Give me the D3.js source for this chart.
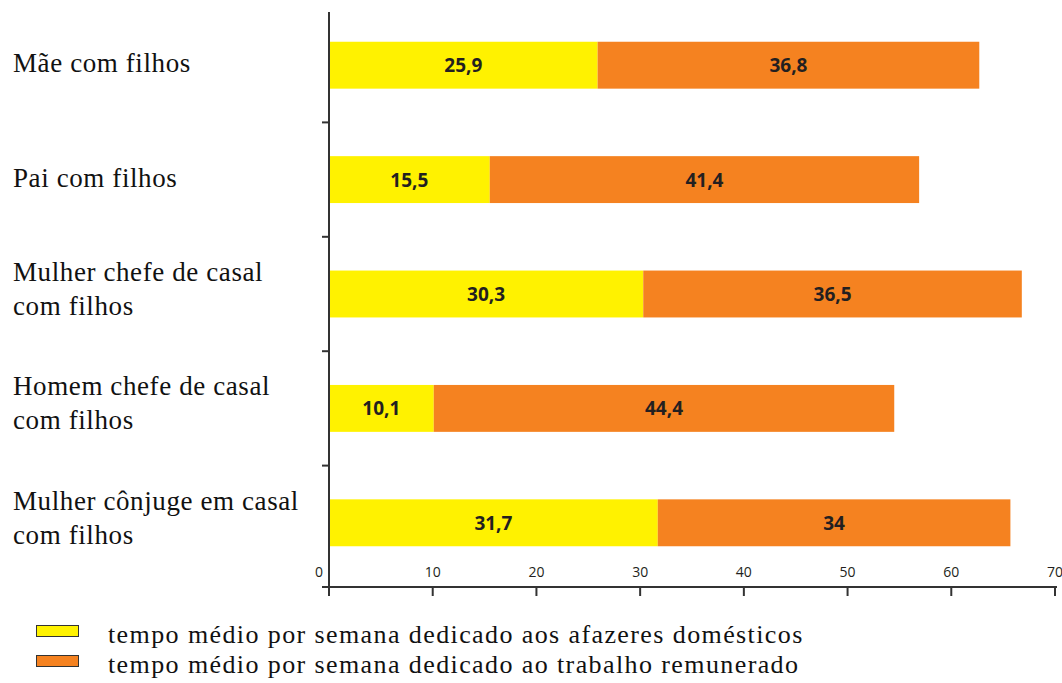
<!DOCTYPE html>
<html>
<head>
<meta charset="utf-8">
<script src="https://cdn.jsdelivr.net/npm/d3@7"></script>
<style>
  body { margin: 0; background: #fff; }
  .cat { font-family: "Liberation Serif", "DejaVu Serif", serif; font-size: 27px; letter-spacing: 0.6px; fill: #111; }
  .legend text { font-family: "Liberation Serif", "DejaVu Serif", serif; font-size: 26px; letter-spacing: 1.4px; fill: #111; }
  .val { font-family: "Open Sans", sans-serif; font-weight: 700; font-size: 19px; fill: #231f20; }
  .tick text { font-family: "Open Sans", sans-serif; font-size: 14px; fill: #231f20; }
</style>
</head>
<body>
<div id="vis"></div>
<script>
const categories = [
  ["Mãe com filhos"],
  ["Pai com filhos"],
  ["Mulher chefe de casal", "com filhos"],
  ["Homem chefe de casal", "com filhos"],
  ["Mulher cônjuge em casal", "com filhos"]
];
const domestic = [25.9, 15.5, 30.3, 10.1, 31.7];
const paid = [36.8, 41.4, 36.5, 44.4, 34];
const xTicks = [0, 10, 20, 30, 40, 50, 60, 70];
const seriesNames = [
  "tempo médio por semana dedicado aos afazeres domésticos",
  "tempo médio por semana dedicado ao trabalho remunerado"
];
const colors = ["#fff200", "#f58220"];

const width = 1062, height = 683;
const x0 = 329, axisY = 587;

const svg = d3.select("#vis").append("svg")
  .attr("width", width)
  .attr("height", height);

const x = d3.scaleLinear().domain([0, 70]).range([x0, 1055]);
const keys = categories.map((d, i) => i);
const y = d3.scaleBand().domain(keys).range([8, 580]).paddingInner(0.59).paddingOuter(0.295);

// bars
const rows = keys.map(i => ({ i: i, a: domestic[i], b: paid[i] }));
const g = svg.append("g");
rows.forEach(function (d) {
  const segs = [
    { start: 0, end: d.a, v: d.a, c: colors[0] },
    { start: d.a, end: d.a + d.b, v: d.b, c: colors[1] }
  ];
  segs.forEach(function (s) {
    g.append("rect")
      .attr("x", x(s.start))
      .attr("y", y(d.i))
      .attr("width", x(s.end) - x(s.start))
      .attr("height", y.bandwidth())
      .attr("fill", s.c);
    g.append("text")
      .attr("class", "val")
      .attr("x", (x(s.start) + x(s.end)) / 2)
      .attr("y", y(d.i) + y.bandwidth() / 2 + 7)
      .attr("text-anchor", "middle")
      .text(String(s.v).replace(".", ","));
  });
});

// y axis line and separator ticks
svg.append("line")
  .attr("x1", x0).attr("x2", x0)
  .attr("y1", 12).attr("y2", axisY)
  .attr("stroke", "#333").attr("stroke-width", 2);
keys.slice(1).forEach(function (i) {
  const ty = y(i) - y.step() * y.paddingInner() / 2;
  svg.append("line")
    .attr("x1", x0 - 7).attr("x2", x0)
    .attr("y1", ty).attr("y2", ty)
    .attr("stroke", "#333").attr("stroke-width", 2);
});

// category labels
keys.forEach(function (i) {
  const lines = categories[i];
  const cy = y(i) + y.bandwidth() / 2;
  const t = svg.append("text").attr("class", "cat").attr("x", 13);
  if (lines.length === 1) {
    t.attr("y", cy + 7).text(lines[0]);
  } else {
    t.attr("y", cy - 13).text(lines[0]);
    svg.append("text").attr("class", "cat").attr("x", 13).attr("y", cy + 21).text(lines[1]);
  }
});

// x axis
const xAxis = svg.append("g").attr("transform", "translate(0," + axisY + ")");
xAxis.append("line")
  .attr("x1", x0 - 7).attr("x2", x(70) + 2)
  .attr("stroke", "#333").attr("stroke-width", 2);
const ticks = xAxis.selectAll(".tick").data(xTicks).enter()
  .append("g").attr("class", "tick")
  .attr("transform", d => "translate(" + x(d) + ",0)");
ticks.append("line").attr("y1", 0).attr("y2", 9)
  .attr("stroke", "#333").attr("stroke-width", 2);
ticks.append("text")
  .attr("x", d => d === 0 ? -10 : 0)
  .attr("y", -10)
  .attr("text-anchor", "middle")
  .text(d => d);

// legend
const legend = svg.append("g").attr("class", "legend");
seriesNames.forEach(function (name, i) {
  legend.append("rect")
    .attr("x", 36.5).attr("y", 625.5 + i * 30)
    .attr("width", 42).attr("height", 11)
    .attr("fill", colors[i])
    .attr("stroke", "#333").attr("stroke-width", 1);
  legend.append("text")
    .attr("x", 108).attr("y", 643 + i * 30)
    .text(name);
});
</script>
</body>
</html>
